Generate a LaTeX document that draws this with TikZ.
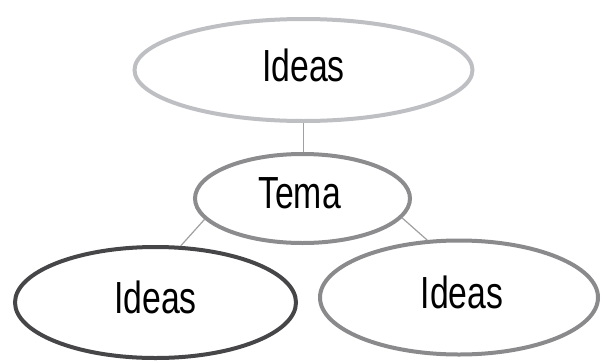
\documentclass[tikz,border=0pt]{standalone}
\usepackage{fontspec}
\usetikzlibrary{shapes.geometric}
\newfontfamily\narrowfont[FakeStretch=0.75]{Liberation Sans}
\definecolor{cTop}{HTML}{BEBFC3}
\definecolor{cTema}{HTML}{8C8C8E}
\definecolor{cLeft}{HTML}{464648}
\definecolor{cRight}{HTML}{8A8A8C}
\definecolor{cLink}{HTML}{A0A0A2}
\tikzset{
  bubble/.style={ellipse, draw, line width=4pt, fill=white, inner sep=0pt,
    text depth=10pt, font=\narrowfont\fontsize{45}{45}\selectfont, text=black},
  link/.style={draw=cLink, line width=1.2pt}
}
\begin{document}
\begin{tikzpicture}[x=1pt,y=-1pt]
\useasboundingbox (0,0) rectangle (602,362);
\node[bubble, draw=cTop, minimum width=338pt, minimum height=102pt] (top) at (303.5,70) {Ideas};
\node[bubble, draw=cTema, minimum width=215pt, minimum height=89pt] (tema) at (302.5,198.5) {\hspace*{-6pt}Tema};
\node[bubble, draw=cLeft, minimum width=281pt, minimum height=111pt] (left) at (155.5,302.5) {Ideas};
\node[bubble, draw=cRight, minimum width=278pt, minimum height=114pt] (right) at (459,297.5) {\hspace*{6pt}Ideas};
\draw[link] (top.south) -- (tema.north -| top.south);
\draw[link] (tema.192) -- (left.66);
\draw[link] (tema.349) -- (right.119);
\end{tikzpicture}
\end{document}
